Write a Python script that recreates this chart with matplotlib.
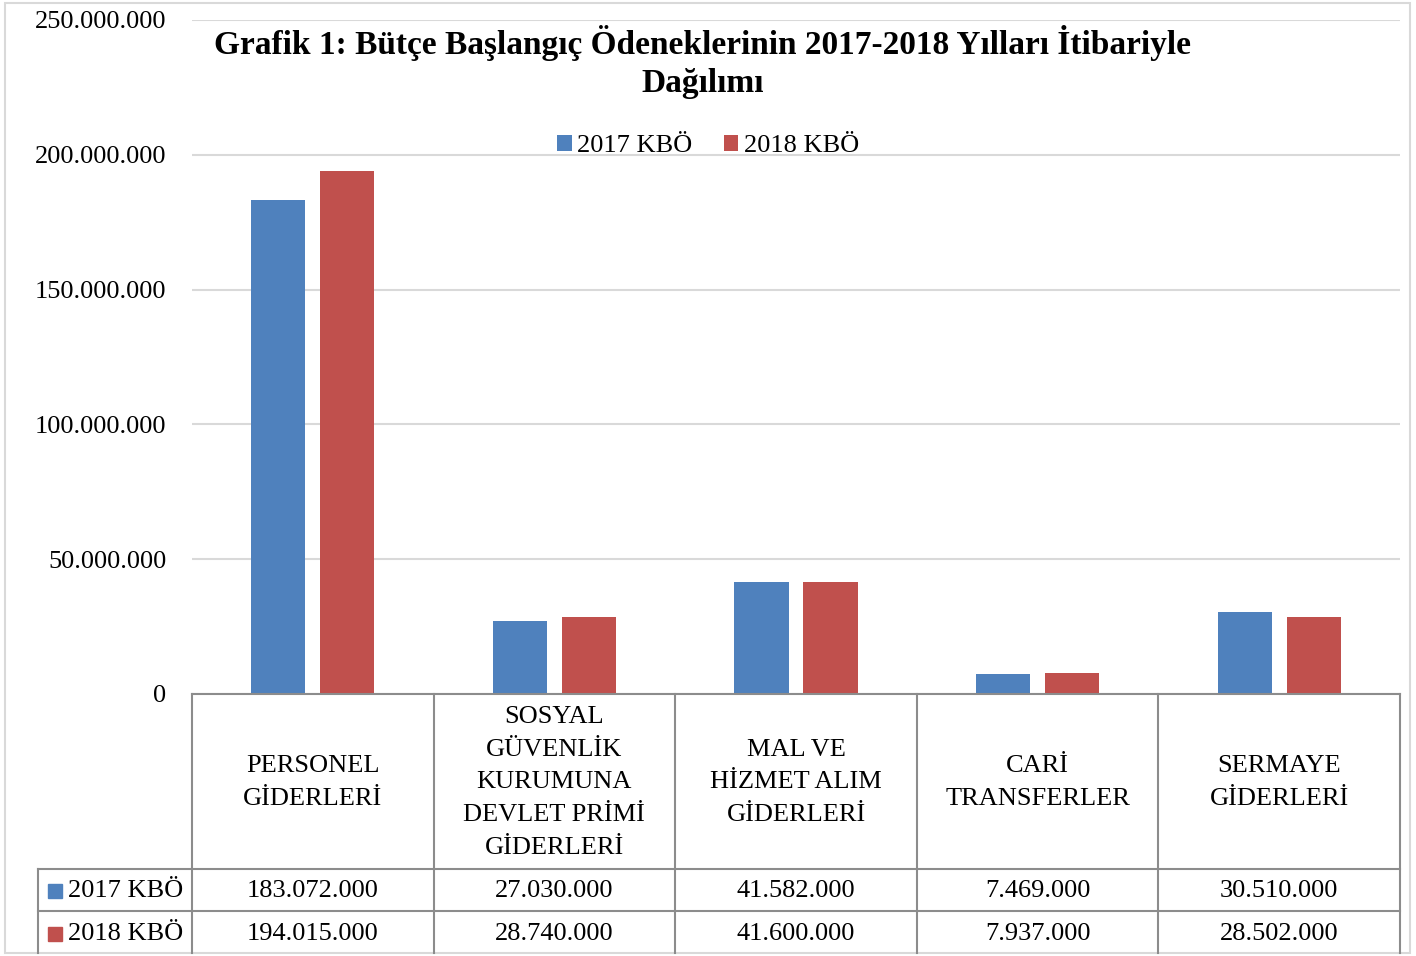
import matplotlib.pyplot as plt
from matplotlib.patches import Rectangle
import numpy as np

plt.rcParams['font.family'] = ['Liberation Serif', 'DejaVu Serif']

# data
kategoriler = ["PERSONEL\nGİDERLERİ",
               "SOSYAL\nGÜVENLİK\nKURUMUNA\nDEVLET PRİMİ\nGİDERLERİ",
               "MAL VE\nHİZMET ALIM\nGİDERLERİ",
               "CARİ\nTRANSFERLER",
               "SERMAYE\nGİDERLERİ"]
kbo_2017 = [183072000, 27030000, 41582000, 7469000, 30510000]
kbo_2018 = [194015000, 28740000, 41600000, 7937000, 28502000]
seriler = ["2017 KBÖ", "2018 KBÖ"]
renkler = ["#4F81BD", "#C0504D"]
yticks = [0, 50000000, 100000000, 150000000, 200000000, 250000000]

def fmt(v):
    return f"{v:,.0f}".replace(",", ".")

FS = 19
W, H = 1416, 956
fig = plt.figure(figsize=(W / 100, H / 100), dpi=100)

x0, x1 = 192, 1400
ytop, ybot = 20, 694
ax = fig.add_axes([x0 / W, 1 - ybot / H, (x1 - x0) / W, (ybot - ytop) / H])

x = np.arange(len(kategoriler))
w = 0.224
off = 0.143
ax.bar(x - off, kbo_2017, w, color=renkler[0], label=seriler[0], zorder=3)
ax.bar(x + off, kbo_2018, w, color=renkler[1], label=seriler[1], zorder=3)

ax.set_xlim(-0.5, len(kategoriler) - 0.5)
ax.set_ylim(0, 250000000)
ax.set_yticks(yticks)
ax.set_yticklabels([fmt(v) for v in yticks], fontsize=FS)
ax.tick_params(axis='y', length=0, pad=18.5)
ax.set_xticks([])
ax.grid(axis='y', color='#d9d9d9', linewidth=1.5, zorder=0)
for s in ax.spines.values():
    s.set_visible(False)

fig.text(703 / W, 1 - 62 / H,
         "Grafik 1: Bütçe Başlangıç Ödeneklerinin 2017-2018 Yılları İtibariyle\nDağılımı",
         ha='center', va='center', fontsize=24, fontweight='bold', linespacing=1.26)

ax.legend(loc='center', bbox_to_anchor=(708 / W, 1 - 146 / H), bbox_transform=fig.transFigure,
          ncol=2, frameon=False, fontsize=FS, handlelength=0.55, handleheight=0.55,
          handletextpad=0.2, columnspacing=1.2, borderpad=0)

# data table under the axis
tc = '#8c8c8c'
def px_line(xs, ys):
    fig.add_artist(plt.Line2D([v / W for v in xs], [1 - v / H for v in ys],
                              color=tc, linewidth=1.5, transform=fig.transFigure))

cw = (x1 - x0) / len(kategoriler)
r0, r1, r2, r3 = 694, 869, 911, 953
lx = 38
px_line([x0, x1], [r0, r0])
px_line([lx, x1], [r1, r1])
px_line([lx, x1], [r2, r2])
px_line([lx, lx], [r1, r3])
for i in range(len(kategoriler) + 1):
    xx = x0 + i * cw
    px_line([xx, xx], [r0, r3])

for i, k in enumerate(kategoriler):
    cx = x0 + (i + 0.5) * cw
    fig.text(cx / W, 1 - (r0 + r1 + 2) / 2 / H, k, ha='center', va='center',
             fontsize=FS, linespacing=1.62)
    fig.text(cx / W, 1 - (r1 + r2 + 2) / 2 / H, fmt(kbo_2017[i]), ha='center', va='center', fontsize=FS)
    fig.text(cx / W, 1 - (r2 + r3 + 3) / 2 / H, fmt(kbo_2018[i]), ha='center', va='center', fontsize=FS)

for j, (s, c) in enumerate(zip(seriler, renkler)):
    ry = [(r1 + r2 + 2) / 2, (r2 + r3 + 3) / 2][j]
    fig.add_artist(Rectangle((48 / W, 1 - (ry + 7) / H), 14 / W, 14 / H,
                             color=c, transform=fig.transFigure))
    fig.text(68 / W, 1 - ry / H, s, ha='left', va='center', fontsize=FS)

# outer border
fig.add_artist(Rectangle((5 / W, 3 / H), 1405 / W, 950 / H, fill=False,
                         edgecolor='#d9d9d9', linewidth=1.5, transform=fig.transFigure))

fig.savefig("out.png", dpi=100)
